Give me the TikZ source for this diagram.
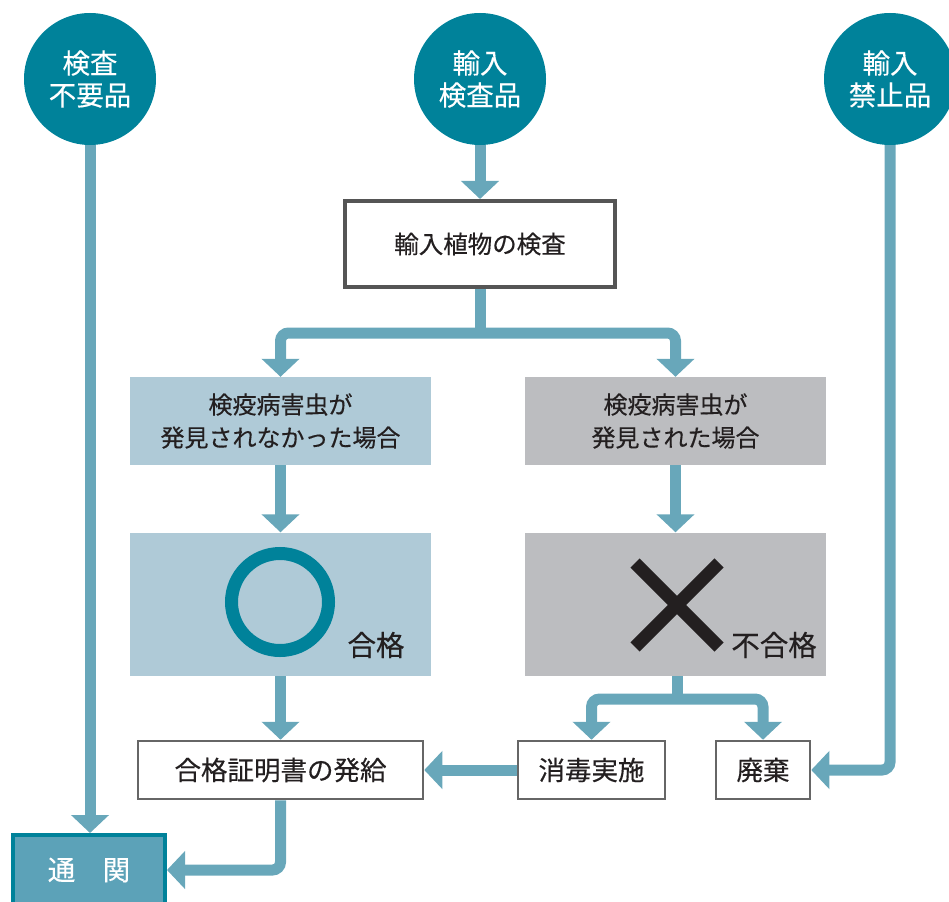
\documentclass[tikz,border=0pt]{standalone}
\usepackage{fontspec}
\setmainfont{Noto Sans CJK JP}
\newfontfamily\medfont[FakeBold=0.35]{Noto Sans CJK JP}
\usetikzlibrary{arrows.meta,backgrounds}
\definecolor{teal0}{HTML}{00829A}
\definecolor{arrowc}{HTML}{68A7BA}
\definecolor{lblue}{HTML}{AFCAD7}
\definecolor{lgray}{HTML}{BCBDC0}
\definecolor{tsuf}{HTML}{5CA2B8}
\definecolor{txt}{HTML}{231F20}
\definecolor{bord}{HTML}{555555}
\tikzset{
  circ/.style={circle,fill=teal0,minimum size=132pt,inner sep=0pt,text=white,align=center,font=\medfont\fontsize{27.5}{32}\selectfont},
  topbox/.style={draw=bord,line width=4pt,fill=white,minimum width=270pt,minimum height=86pt,inner sep=0pt,text=txt,font=\medfont\fontsize{24.5}{28}\selectfont},
  cbox/.style={minimum width=301pt,inner sep=0pt,text=txt,align=center,font=\medfont\fontsize{24}{33}\selectfont},
  wbox/.style={draw=bord!90,line width=2.5pt,fill=white,minimum height=58pt,inner sep=0pt,text=txt,font=\medfont\fontsize{26.5}{28}\selectfont},
  conn/.style={draw=arrowc,line width=11pt,rounded corners=8pt},
  tip/.tip={Triangle[width=37pt,length=18pt]},
  lbl/.style={text=txt,inner sep=0pt,font=\medfont\fontsize{28.5}{30}\selectfont}
}
\begin{document}
\begin{tikzpicture}[x=1pt,y=-1pt]
\useasboundingbox (0,0) rectangle (949,901);
% nodes
\node[circ] (c1) at (90,79) {検査\\不要品};
\node[circ] (c2) at (480,79) {輸入\\検査品};
\node[circ] (c3) at (890,79) {輸入\\禁止品};
\node[topbox] (insp) at (480,244) {輸入植物の検査};
\node[cbox,fill=lblue,minimum height=88pt] (lb1) at (280.5,421) {検疫病害虫が\\発見されなかった場合};
\node[cbox,fill=lgray,minimum height=88pt] (rb1) at (675.5,421) {検疫病害虫が\\発見された場合};
\node[cbox,fill=lblue,minimum height=143pt] (lb2) at (280.5,604) {};
\node[cbox,fill=lgray,minimum height=143pt] (rb2) at (675.5,604) {};
\draw[teal0,line width=13pt] (280,602) circle[radius=48.5pt];
\node[lbl] (pass) at (376,645) {合格};
\draw[txt,line width=13pt] (635,563) -- (719,647) (719,563) -- (635,647);
\node[lbl] (fail) at (774,645) {不合格};
\node[wbox,minimum width=285pt] (cert) at (280.5,770) {合格証明書の発給};
\node[wbox,minimum width=147pt] (dis) at (591.5,770) {消毒実施};
\node[wbox,minimum width=94pt] (waste) at (763,770) {廃棄};
\node[draw=teal0,line width=4pt,fill=tsuf,minimum width=152pt,minimum height=70pt,inner sep=0pt,text=white,font=\medfont\fontsize{27.5}{30}\selectfont] (tsukan) at (89,870) {通\hspace{1em}関};
\coordinate (j1) at (480,333);
\coordinate (j2) at (677,699);
% connectors
\begin{pgfonlayer}{background}
\draw[conn,-tip] (c1.south) -- (c1.south |- tsukan.north);
\draw[conn,-tip] (c2.south) -- (insp.north);
\draw[conn] (insp.south) -- (j1);
\draw[conn,tip-tip] (lb1.north) |- (j1) -| (rb1.north);
\draw[conn,-tip] (lb1.south) -- (lb2.north);
\draw[conn,-tip] (rb1.south) -- (rb2.north);
\draw[conn,-tip] (lb2.south) -- (cert.north);
\draw[conn] (rb2.south -| j2) -- (j2);
\draw[conn,tip-tip] (dis.north) |- (j2) -| (waste.north);
\draw[conn,-tip] (dis.west) -- (cert.east);
\draw[conn,-tip] (c3.south) |- (waste.east);
\draw[conn,-tip] (cert.south) |- (tsukan.east);
\end{pgfonlayer}
\end{tikzpicture}
\end{document}
